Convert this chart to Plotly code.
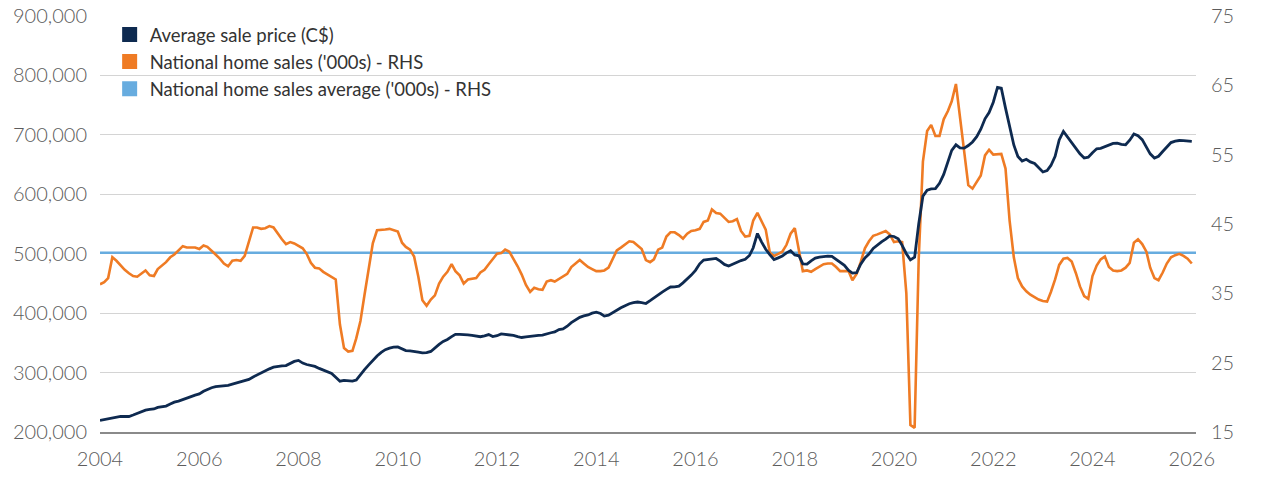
import pandas as pd
import plotly.graph_objects as go

# Monthly data, Jan 2004 .. Jan 2026
months = pd.date_range("2004-01-01", "2026-01-01", freq="MS")

price_k = [
    # 2004
    219.4, 220.8, 222.3, 224.0, 225.5, 226.1, 226.1, 226.1, 228.5, 231.0, 234.0, 236.8,
    # 2005
    238.0, 238.8, 241.5, 242.8, 243.7, 247.0, 250.2, 252.0, 254.2, 256.8, 259.5, 262.0,
    # 2006
    264.0, 268.5, 272.0, 274.5, 276.5, 277.3, 277.3, 278.6, 280.5, 282.5, 284.5, 285.4,
    # 2007
    288.5, 292.6, 296.0, 299.6, 303.0, 306.3, 309.0, 310.7, 311.2, 311.7, 315.0, 318.8,
    # 2008
    320.5, 316.0, 313.6, 312.0, 310.3, 307.0, 304.5, 302.0, 298.5, 292.0, 285.5, 287.0,
    # 2009
    286.5, 285.5, 287.5, 297.0, 305.0, 313.0, 321.0, 328.0, 334.0, 338.5, 341.0, 342.7,
    # 2010
    343.0, 339.5, 337.0, 336.5, 335.8, 334.5, 333.0, 333.5, 335.5, 342.0, 347.5, 352.5,
    # 2011
    355.8, 360.5, 364.4, 364.4, 364.4, 363.5, 362.6, 361.4, 360.3, 361.8, 364.0, 360.6,
    # 2012
    362.0, 365.0, 364.5, 363.5, 362.5, 360.5, 359.0, 360.0, 361.2, 362.0, 362.5, 363.0,
    # 2013
    365.5, 367.0, 368.3, 372.5, 373.5, 378.0, 384.0, 389.0, 393.0, 395.3, 397.0, 400.0,
    # 2014
    401.5, 399.4, 395.0, 396.5, 401.0, 405.0, 409.0, 412.5, 415.8, 417.5, 418.7, 417.5,
    # 2015
    416.2, 421.0, 426.0, 430.5, 435.5, 440.0, 444.0, 444.2, 445.5, 451.0, 457.5, 464.0,
    # 2016
    472.0, 483.0, 489.3, 490.0, 491.0, 492.0, 487.5, 482.0, 479.3, 482.5, 486.4, 488.5,
    # 2017
    490.5, 497.0, 510.0, 534.0, 520.0, 507.5, 498.5, 490.0, 493.0, 496.0, 501.5, 505.0,
    # 2018
    498.0, 496.5, 483.0, 482.5, 488.0, 492.5, 494.3, 495.2, 495.8, 495.5, 490.5, 485.5,
    # 2019
    480.5, 472.0, 467.5, 468.0, 482.5, 493.0, 499.4, 509.0, 515.0, 520.0, 524.5, 530.0,
    # 2020
    529.0, 525.0, 514.0, 500.0, 489.5, 494.0, 550.0, 597.0, 607.0, 609.0, 609.5, 618.5,
    # 2021
    633.5, 656.0, 674.0, 683.3, 678.0, 677.7, 682.0, 688.0, 697.0, 709.5, 727.0, 737.5,
    # 2022
    755.0, 780.0, 778.5, 745.0, 713.0, 683.0, 663.5, 656.0, 659.0, 654.5, 651.8, 645.5,
    # 2023
    637.5, 640.0, 648.5, 664.0, 691.5, 705.7, 696.5, 686.5, 678.0, 668.0, 661.0, 662.5,
    # 2024
    670.0, 676.5, 677.3, 680.0, 683.3, 685.5, 686.1, 684.0, 683.3, 691.0, 701.5, 698.5,
    # 2025
    692.0, 679.0, 668.0, 661.0, 664.0, 672.0, 680.0, 687.0, 689.5, 690.5, 690.2, 689.8,
    # 2026
    689.0,
]
avg_price = [v * 1000 for v in price_k]

home_sales = [
    # 2004
    36.3, 36.6, 37.2, 40.2, 39.7, 39.0, 38.4, 37.9, 37.5, 37.4, 37.9, 38.3,
    # 2005
    37.6, 37.5, 38.5, 39.0, 39.5, 40.2, 40.6, 41.2, 41.8, 41.6, 41.6, 41.6,
    # 2006
    41.4, 41.9, 41.7, 41.2, 40.6, 40.0, 39.3, 38.9, 39.7, 39.8, 39.7, 40.4,
    # 2007
    42.5, 44.5, 44.5, 44.3, 44.4, 44.7, 44.5, 43.6, 42.8, 42.1, 42.4, 42.2,
    # 2008
    41.8, 41.5, 40.7, 39.4, 38.7, 38.6, 38.1, 37.7, 37.3, 37.0, 30.5, 27.1,
    # 2009
    26.6, 26.7, 28.5, 31.0, 34.8, 38.7, 42.2, 44.1, 44.1, 44.2, 44.3, 44.1,
    # 2010
    43.9, 42.3, 41.7, 41.3, 40.3, 37.4, 34.0, 33.2, 34.1, 34.7, 36.4, 37.4,
    # 2011
    38.1, 39.2, 38.2, 37.6, 36.4, 37.0, 37.1, 37.2, 38.0, 38.4, 39.2, 40.0,
    # 2012
    40.7, 40.8, 41.3, 41.0, 40.0, 38.9, 37.7, 36.2, 35.2, 35.8, 35.6, 35.5,
    # 2013
    36.7, 36.9, 36.7, 37.1, 37.5, 37.8, 38.8, 39.3, 39.8, 39.3, 38.8, 38.5,
    # 2014
    38.2, 38.2, 38.3, 38.7, 40.0, 41.2, 41.6, 42.0, 42.5, 42.4, 41.9, 41.4,
    # 2015
    39.8, 39.5, 39.9, 41.3, 41.6, 43.2, 43.8, 43.8, 43.4, 42.9, 43.6, 44.0,
    # 2016
    44.1, 44.3, 45.3, 45.5, 47.1, 46.6, 46.5, 45.9, 45.3, 45.4, 45.7, 44.0,
    # 2017
    43.2, 43.3, 45.5, 46.6, 45.5, 44.2, 40.9, 40.4, 40.7, 41.0, 42.0, 43.6,
    # 2018
    44.4, 41.0, 38.2, 38.3, 38.1, 38.5, 38.9, 39.2, 39.3, 39.3, 38.8, 38.2,
    # 2019
    38.2, 38.2, 36.9, 37.8, 39.5, 41.5, 42.5, 43.3, 43.5, 43.8, 44.0, 43.5,
    # 2020
    42.4, 42.5, 42.4, 35.0, 16.0, 15.6, 40.0, 54.0, 58.4, 59.3, 57.7, 57.7,
    # 2021
    60.1, 61.3, 62.7, 65.2, 60.5, 55.0, 50.6, 50.1, 51.0, 52.0, 54.9, 55.7,
    # 2022
    55.0, 55.1, 55.1, 53.0, 45.5, 40.2, 37.2, 36.0, 35.3, 34.8, 34.4, 34.1,
    # 2023
    33.9, 33.8, 35.2, 37.0, 39.1, 40.0, 40.1, 39.6, 37.9, 36.0, 34.6, 34.2,
    # 2024
    37.5, 39.0, 39.9, 40.3, 38.8, 38.3, 38.2, 38.3, 38.7, 39.4, 42.3, 42.8,
    # 2025
    42.1, 41.0, 38.7, 37.2, 36.9, 38.0, 39.3, 40.2, 40.5, 40.7, 40.4, 40.0,
    # 2026
    39.3,
]

sales_average = 40.85
avg_x = ["2004-01-01", "2026-02-01"]

legend_names = [
    "Average sale price (C$)",
    "National home sales ('000s) - RHS",
    "National home sales average ('000s) - RHS",
]
NAVY = "#0e2a50"
ORANGE = "#ef7b24"
LBLUE = "#67acdf"
legend_colors = [NAVY, ORANGE, LBLUE]

x_ticks = [f"{y}-01-01" for y in range(2004, 2027, 2)]
x_labels = [str(y) for y in range(2004, 2027, 2)]

fig = go.Figure()

# RHS series on the base axis (drawn underneath)
fig.add_trace(go.Scatter(x=avg_x, y=[sales_average, sales_average], mode="lines",
                         line=dict(color=LBLUE, width=2.6), yaxis="y", showlegend=False,
                         hoverinfo="skip"))
fig.add_trace(go.Scatter(x=months, y=home_sales, mode="lines",
                         line=dict(color=ORANGE, width=2.6), yaxis="y", showlegend=False))
# LHS series on overlay axis (drawn on top)
fig.add_trace(go.Scatter(x=months, y=avg_price, mode="lines",
                         line=dict(color=NAVY, width=2.8), yaxis="y2", showlegend=False))

# Legend entries as squares
for i, (name, col) in enumerate(zip(legend_names, legend_colors)):
    fig.add_trace(go.Scatter(x=[None], y=[None], mode="markers", name=name,
                             marker=dict(symbol="square", size=15, color=col),
                             legendgroup=f"g{i}", showlegend=True, yaxis="y"))

tick_font = dict(family="Lato", size=20, color="#5c5c5c", weight=300)

fig.update_layout(
    width=1280, height=477,
    margin=dict(l=100, r=84, t=16, b=45, autoexpand=False),
    paper_bgcolor="white", plot_bgcolor="white",
    showlegend=True,
    legend=dict(x=0.0088, y=1.0, xanchor="left", yanchor="top",
                font=dict(family="Lato", size=18.5, color="#333333"),
                bgcolor="rgba(0,0,0,0)", tracegroupgap=0, itemwidth=30),
    xaxis=dict(type="date", range=["2004-01-01", "2026-02-01"], automargin=False,
               tickvals=x_ticks, ticktext=x_labels, tickfont=tick_font,
               showgrid=False, showline=True, linecolor="#8a8a8a", linewidth=1.5,
               ticks="outside", ticklen=8, tickcolor="rgba(0,0,0,0)", zeroline=False),
    yaxis=dict(side="right", range=[15, 75], tick0=15, dtick=10, tickfont=tick_font,
               showgrid=False, zeroline=False, showline=False, automargin=False,
               ticks="outside", ticklen=10, tickcolor="rgba(0,0,0,0)"),
    yaxis2=dict(side="left", overlaying="y", range=[200000, 900000], dtick=100000,
                tickformat=",.0f", tickfont=tick_font, automargin=False,
                showgrid=True, gridcolor="#d4d4d4", gridwidth=1, zeroline=False,
                showline=False, ticks="outside", ticklen=8, tickcolor="rgba(0,0,0,0)"),
)

fig.write_html("out.html")
